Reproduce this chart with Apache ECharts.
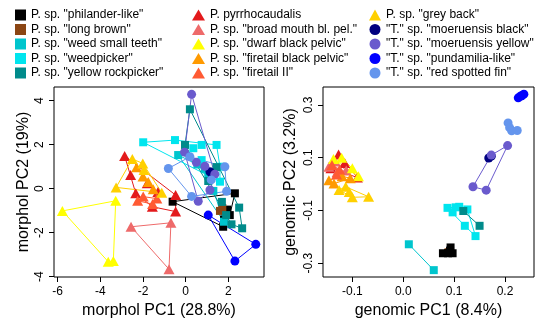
<!DOCTYPE html>
<html>
<head>
<meta charset="utf-8">
<script src="https://cdn.jsdelivr.net/npm/echarts@6/dist/echarts.min.js"></script>
<style>
  html, body { margin: 0; padding: 0; background: #fff; }
  #chart { width: 542px; height: 324px; }
</style>
</head>
<body>
<div id="chart"></div>
<script>
// species, in legend order (3 columns of 5)
var species = [
    'P. sp. "philander-like"', 'P. sp. "long brown"', 'P. sp. "weed small teeth"',
    'P. sp. "weedpicker"', 'P. sp. "yellow rockpicker"',
    'P. pyrrhocaudalis', 'P. sp. "broad mouth bl. pel."', 'P. sp. "dwarf black pelvic"',
    'P. sp. "firetail black pelvic"', 'P. sp. "firetail II"',
    'P. sp. "grey back"', '"T." sp. "moeruensis black"', '"T." sp. "moeruensis yellow"',
    '"T." sp. "pundamilia-like"', '"T." sp. "red spotted fin"'
];
var colours = [
    '#000000', '#8B4513', '#00C5CD', '#00E5EE', '#008B8B',
    '#E31A1C', '#EE6A6A', '#FFFF00', '#FF9A00', '#FF5A33',
    '#FFD000', '#000080', '#6A5ACD', '#0000FF', '#6495ED'
];
var shapes = [
    'rect', 'rect', 'rect', 'rect', 'rect',
    'triangle', 'triangle', 'triangle', 'triangle', 'triangle',
    'triangle', 'circle', 'circle', 'circle', 'circle'
];

// morphological PCA scores [PC1, PC2], one list per species
var morphol = [
    [[-0.61, -0.59], [2.31, -0.21], [2.07, -1.20], [1.76, -1.73], [1.80, -1.40], [1.95, -0.95]],
    [[1.61, -1.01], [1.72, -0.88]],
    [[-0.35, 1.53], [0.55, 1.10], [1.06, 0.60], [1.30, -0.10], [1.80, -1.50], [0.90, 0.90]],
    [[-1.99, 2.11], [-0.50, 2.21], [0.36, 1.84], [0.75, 1.99], [1.45, 1.99], [0.75, 1.30], [1.61, 1.00], [1.61, 0.32]],
    [[0.20, 3.61], [-0.03, 1.99], [1.45, 0.98], [1.06, 0.35], [1.70, -0.60], [2.51, -0.86], [2.65, -1.80], [2.15, -1.62], [1.90, -1.20]],
    [[-2.86, 1.49], [-2.58, 0.62], [-2.34, -0.21], [-1.80, 0.25], [-1.56, -0.82], [-0.47, -0.29], [-0.47, -1.04], [-1.30, -0.15]],
    [[-2.56, -1.73], [-0.69, -1.55], [-0.78, -3.66]],
    [[-5.78, -1.01], [-3.28, -0.55], [-3.39, -3.29], [-3.63, -3.32]],
    [[-2.30, 0.97], [-1.52, -0.03], [-2.00, 0.55], [-1.75, 0.30]],
    [[-1.99, -0.36], [-2.25, -0.55], [-1.55, -0.70], [-1.35, -0.45]],
    [[-2.50, 1.35], [-2.01, 1.15], [-3.26, 0.06], [-1.12, -0.18], [-1.95, 0.85]],
    [[1.14, 0.77], [1.25, 0.65]],
    [[0.28, 4.29], [-0.05, 1.66], [0.59, -0.57], [0.90, 1.02], [1.37, 0.66], [1.14, -0.06], [0.50, 1.20]],
    [[1.06, -1.20], [3.29, -2.53], [2.31, -3.29]],
    [[-0.81, 0.92], [0.28, -0.35], [1.84, 1.00], [1.92, -0.12], [0.20, 1.45], [1.20, 0.40]]
];

// genomic PCA scores [PC1, PC2], one list per species
var genomic = [
    [[0.078, -0.262], [0.093, -0.240], [0.097, -0.262], [0.088, -0.262], [0.092, -0.252]],
    [[0.089, -0.258]],
    [[0.011, -0.228], [0.060, -0.326]],
    [[0.087, -0.090], [0.097, -0.107], [0.110, -0.086], [0.126, -0.096], [0.121, -0.158], [0.142, -0.197], [0.103, -0.088]],
    [[0.118, -0.102], [0.150, -0.158]],
    [[-0.127, 0.112], [-0.090, 0.025], [-0.142, 0.060], [-0.115, 0.080]],
    [[-0.146, 0.066], [-0.130, 0.045], [-0.112, 0.052], [-0.134, 0.086]],
    [[-0.137, 0.095], [-0.088, 0.030], [-0.121, 0.100], [-0.100, 0.060]],
    [[-0.146, 0.015], [-0.136, 0.002], [-0.120, 0.030], [-0.104, 0.022]],
    [[-0.140, 0.072], [-0.125, 0.055], [-0.131, 0.036]],
    [[-0.126, -0.022], [-0.100, -0.050], [-0.068, -0.048], [-0.106, -0.030], [-0.113, -0.010]],
    [[0.168, 0.099], [0.173, 0.106]],
    [[0.205, 0.146], [0.173, 0.110], [0.137, -0.010], [0.163, -0.023]],
    [[0.226, 0.327], [0.231, 0.334], [0.237, 0.341], [0.233, 0.335]],
    [[0.206, 0.232], [0.209, 0.214], [0.213, 0.202], [0.224, 0.203]]
];

// tick positions
var morpholXTicks = [-6, -4, -2, 0, 2];
var morpholYTicks = [-4, -2, 0, 2, 4];
var genomicXTicks = [-0.1, 0.0, 0.1, 0.2];
var genomicYTicks = [-0.3, -0.1, 0.1, 0.3];

var FONT = '"Liberation Sans", Arial, sans-serif';

// convex hull of a group, closed back to its first point
function hull(pts) {
    if (pts.length < 3) return pts.slice();
    var p = pts.slice().sort(function (a, b) { return a[0] - b[0] || a[1] - b[1]; });
    var cross = function (o, a, b) {
        return (a[0] - o[0]) * (b[1] - o[1]) - (a[1] - o[1]) * (b[0] - o[0]);
    };
    var lower = [], upper = [];
    p.forEach(function (q) {
        while (lower.length >= 2 && cross(lower[lower.length - 2], lower[lower.length - 1], q) <= 0) lower.pop();
        lower.push(q);
    });
    for (var i = p.length - 1; i >= 0; i--) {
        while (upper.length >= 2 && cross(upper[upper.length - 2], upper[upper.length - 1], p[i]) <= 0) upper.pop();
        upper.push(p[i]);
    }
    lower.pop();
    upper.pop();
    var h = lower.concat(upper);
    h.push(h[0]);
    return h;
}

function symbolSize(shape) {
    if (shape === 'triangle') return [11, 10];
    if (shape === 'circle') return 9;
    return 8;
}

var series = [];
[morphol, genomic].forEach(function (panel, p) {
    panel.forEach(function (pts, i) {
        if (pts.length > 1) {
            series.push({
                type: 'line',
                name: species[i],
                xAxisIndex: p,
                yAxisIndex: p,
                data: hull(pts),
                symbol: 'none',
                silent: true,
                z: 2,
                itemStyle: { color: colours[i] },
                lineStyle: { color: colours[i], width: 1 }
            });
        }
        series.push({
            type: 'scatter',
            name: species[i],
            xAxisIndex: p,
            yAxisIndex: p,
            data: pts,
            symbol: shapes[i],
            symbolSize: symbolSize(shapes[i]),
            // in the genomic panel the brown squares sit under the black ones
            z: (p === 1 && i === 0) ? 4 : 3,
            itemStyle: { color: colours[i], opacity: 1 }
        });
    });
});

function legendCol(start, left, iconW) {
    return {
        orient: 'vertical',
        left: left,
        top: 9,
        itemWidth: iconW,
        itemHeight: 11,
        itemGap: 2.5,
        padding: 0,
        selectedMode: false,
        textStyle: { fontSize: 12, lineHeight: 12, color: '#000', fontFamily: FONT },
        data: species.slice(start, start + 5).map(function (n, k) {
            return { name: n, icon: shapes[start + k] };
        })
    };
}

function xAxis(idx, min, max, ticks, name, fmt) {
    return {
        gridIndex: idx, type: 'value', min: min, max: max,
        axisLine: { show: false, onZero: false },
        splitLine: { show: false },
        axisTick: { show: true, length: 5, customValues: ticks, lineStyle: { color: '#000' } },
        axisLabel: { customValues: ticks, margin: 9, fontSize: 12, color: '#000', fontFamily: FONT, formatter: fmt },
        name: name, nameLocation: 'middle', nameGap: 26,
        nameTextStyle: { fontSize: 16, color: '#000', fontFamily: FONT }
    };
}

function yAxis(idx, min, max, ticks, name, gap, fmt) {
    return {
        gridIndex: idx, type: 'value', min: min, max: max,
        axisLine: { show: false, onZero: false },
        splitLine: { show: false },
        axisTick: { show: true, length: 5, customValues: ticks, lineStyle: { color: '#000' } },
        axisLabel: { customValues: ticks, rotate: 90, margin: 8, fontSize: 12, color: '#000', fontFamily: FONT, formatter: fmt },
        name: name, nameLocation: 'middle', nameGap: gap, nameRotate: 90,
        nameTextStyle: { fontSize: 16, color: '#000', fontFamily: FONT }
    };
}

var intFmt = function (v) { return String(Math.round(v)); };
var oneDec = function (v) { return v.toFixed(1); };

var myChart = echarts.init(document.getElementById('chart'));
var option = {
    animation: false,
    textStyle: { fontFamily: FONT },
    legend: [legendCol(0, 15, 11), legendCol(5, 192, 13), legendCol(10, 369, 12)],
    grid: [
        { left: 54, top: 87, width: 210, height: 190, show: true, borderColor: '#000', borderWidth: 1 },
        { left: 323, top: 87, width: 211, height: 190, show: true, borderColor: '#000', borderWidth: 1 }
    ],
    xAxis: [
        xAxis(0, -6.173, 3.675, morpholXTicks, 'morphol PC1 (28.8%)', intFmt),
        xAxis(1, -0.1576, 0.2569, genomicXTicks, 'genomic PC1 (8.4%)', oneDec)
    ],
    yAxis: [
        yAxis(0, -4.014, 4.623, morpholYTicks, 'morphol PC2 (19%)', 22, intFmt),
        yAxis(1, -0.352, 0.368, genomicYTicks, 'genomic PC2 (3.2%)', 24, oneDec)
    ],
    series: series
};
myChart.setOption(option);
</script>
</body>
</html>
